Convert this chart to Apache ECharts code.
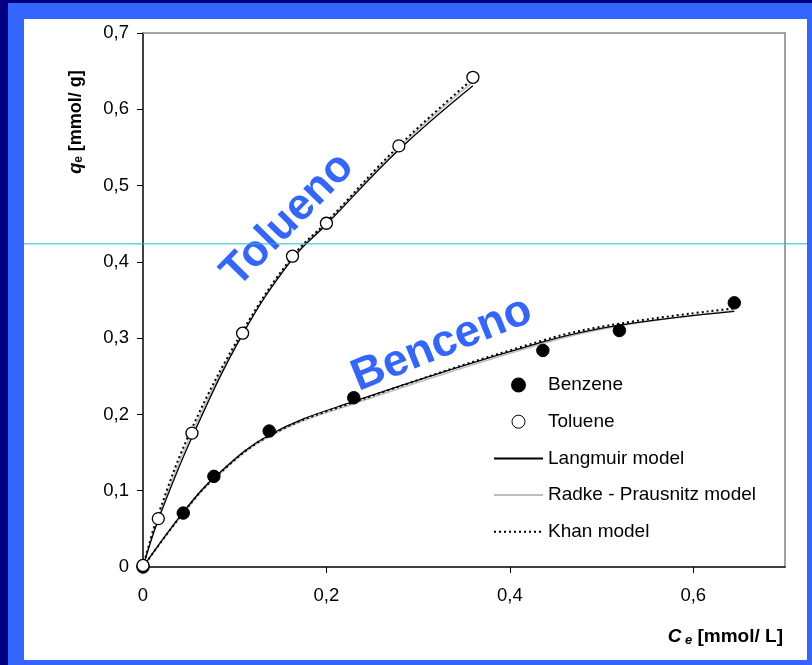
<!DOCTYPE html>
<html><head><meta charset="utf-8">
<script src="https://cdn.jsdelivr.net/npm/echarts@6/dist/echarts.min.js"></script>
<style>
html,body{margin:0;padding:0;width:812px;height:665px;overflow:hidden;background:#3366FF;}
#navyL{position:absolute;left:0;top:0;width:8px;height:665px;background:#000080;}
#navyT{position:absolute;left:0;top:0;width:812px;height:3px;background:#000080;}
#panel{position:absolute;left:24px;top:19px;width:783px;height:641px;background:#fff;}
#chart{position:absolute;left:0;top:0;width:812px;height:665px;}
</style></head><body>
<div id="navyL"></div><div id="navyT"></div><div id="panel"></div><div id="chart"></div>
<script>
// ---- data ----
const benzeneX   = [0, 0.0439, 0.0773, 0.1376, 0.2298, 0.436, 0.5194, 0.6447];
const benzeneQ   = [0, 0.0707, 0.1188, 0.1782, 0.2219, 0.2839, 0.310, 0.3463];
const tolueneX   = [0, 0.0167, 0.0534, 0.1086, 0.163, 0.200, 0.279, 0.3597];
const tolueneQ   = [0.002, 0.0634, 0.1755, 0.3065, 0.4074, 0.4506, 0.552, 0.6419];

const benzeneLangmuir = [0, 0.072, 0.117, 0.173, 0.217, 0.295, 0.317, 0.335];
const benzeneRadke    = [0, 0.070, 0.115, 0.171, 0.214, 0.293, 0.316, 0.336];
const benzeneKhan     = [0, 0.071, 0.116, 0.172, 0.216, 0.297, 0.319, 0.339];

const tolueneLangmuir = [0, 0.062, 0.170, 0.305, 0.404, 0.449, 0.547, 0.631];
const tolueneRadke    = [0, 0.065, 0.176, 0.307, 0.406, 0.451, 0.550, 0.636];
const tolueneKhan     = [0, 0.069, 0.182, 0.309, 0.407, 0.452, 0.552, 0.640];

const xTicks = [0, 0.2, 0.4, 0.6];
const xTickLabels = ['0', '0,2', '0,4', '0,6'];
const yTicks = [0, 0.1, 0.2, 0.3, 0.4, 0.5, 0.6, 0.7];
const yTickLabels = ['0', '0,1', '0,2', '0,3', '0,4', '0,5', '0,6', '0,7'];

const refLineY = 0.4236;
const labelTolueno = 'Tolueno';
const labelBenceno = 'Benceno';
const toluenoPos = [0.158, 0.455];
const bencenoPos = [0.326, 0.292];

// ---- build ----
const FONT = "'Liberation Sans', Arial, sans-serif";
const pairs = (xs, ys) => xs.map((x, i) => [x, ys[i]]);

function lineSeries(name, xs, ys, style) {
  return {
    type: 'line', name: name, data: pairs(xs, ys),
    smooth: 0.4, symbol: 'none', showSymbol: false, z: 3,
    lineStyle: style, itemStyle: { color: style.color }
  };
}
const radkeStyle = { color: '#BDBDBD', width: 1.5, type: 'solid' };
const langStyle  = { color: '#000000', width: 1.3, type: 'solid' };
const khanStyle  = { color: '#000000', width: 2, type: [2, 3] };

const option = {
  animation: false,
  textStyle: { fontFamily: FONT },
  grid: { left: 143, top: 33, right: 27, bottom: 98 },
  xAxis: [{
    type: 'value', min: 0, max: 0.7,
    axisLine: { show: true, lineStyle: { color: '#000', width: 1.5 } },
    axisTick: { show: true, length: 6, lineStyle: { color: '#000', width: 1 }, customValues: xTicks },
    axisLabel: { show: true, margin: 19, fontSize: 18.5, color: '#000', fontFamily: FONT,
      customValues: xTicks,
      formatter: v => { const i = xTicks.findIndex(t => Math.abs(t - v) < 1e-9); return i >= 0 ? xTickLabels[i] : ''; } },
    splitLine: { show: false }
  }, {
    type: 'value', min: 0, max: 0.7, position: 'top',
    axisLine: { show: true, onZero: false, lineStyle: { color: '#8a8a8a', width: 1.6 } },
    axisTick: { show: false }, axisLabel: { show: false }, splitLine: { show: false }
  }],
  yAxis: [{
    type: 'value', min: 0, max: 0.7, interval: 0.1,
    axisLine: { show: true, lineStyle: { color: '#000', width: 1.5 } },
    axisTick: { show: true, length: 6, lineStyle: { color: '#000', width: 1 } },
    axisLabel: { show: true, margin: 14, fontSize: 18.5, color: '#000', fontFamily: FONT,
      formatter: v => { const i = yTicks.findIndex(t => Math.abs(t - v) < 1e-6); return i >= 0 ? yTickLabels[i] : ''; } },
    splitLine: { show: false }
  }, {
    type: 'value', min: 0, max: 0.7, position: 'right',
    axisLine: { show: true, onZero: false, lineStyle: { color: '#8a8a8a', width: 1.6 } },
    axisTick: { show: false }, axisLabel: { show: false }, splitLine: { show: false }
  }],
  legend: {
    orient: 'vertical', left: 493, top: 375, padding: 0,
    itemWidth: 49, itemHeight: 13, itemGap: 16.7,
    selectedMode: false, symbolKeepAspect: true,
    textStyle: { fontSize: 19, color: '#000', fontFamily: FONT, lineHeight: 20 },
    data: [
      { name: 'Benzene', icon: 'circle', itemStyle: { color: '#000' } },
      { name: 'Toluene', icon: 'circle', itemStyle: { color: '#fff', borderColor: '#000', borderWidth: 1 } },
      { name: 'Langmuir model', itemStyle: { opacity: 0 } },
      { name: 'Radke - Prausnitz model', itemStyle: { opacity: 0 } },
      { name: 'Khan model', itemStyle: { opacity: 0 } }
    ]
  },
  series: [
    lineSeries('Radke - Prausnitz model', benzeneX, benzeneRadke, radkeStyle),
    lineSeries('Radke - Prausnitz model', tolueneX, tolueneRadke, radkeStyle),
    lineSeries('Langmuir model', benzeneX, benzeneLangmuir, langStyle),
    lineSeries('Langmuir model', tolueneX, tolueneLangmuir, langStyle),
    lineSeries('Khan model', benzeneX, benzeneKhan, khanStyle),
    lineSeries('Khan model', tolueneX, tolueneKhan, khanStyle),
    { type: 'scatter', name: 'Benzene', data: pairs(benzeneX, benzeneQ), symbol: 'circle', symbolSize: 12.5, z: 5,
      itemStyle: { color: '#000', borderColor: '#000', borderWidth: 1, opacity: 1 } },
    { type: 'scatter', name: 'Toluene', data: pairs(tolueneX, tolueneQ), symbol: 'circle', symbolSize: 12, z: 6,
      itemStyle: { color: '#fff', borderColor: '#000', borderWidth: 1.3, opacity: 1 } }
  ]
};

const chart = echarts.init(document.getElementById('chart'), null, { renderer: 'canvas', width: 812, height: 665 });
chart.setOption(option);

const yRefPx = chart.convertToPixel({ yAxisIndex: 0 }, refLineY);
const tPos = chart.convertToPixel({ gridIndex: 0 }, toluenoPos);
const bPos = chart.convertToPixel({ gridIndex: 0 }, bencenoPos);

chart.setOption({
  graphic: [
    { type: 'line', z: 10, silent: true,
      shape: { x1: 24, y1: yRefPx, x2: 807, y2: yRefPx },
      style: { stroke: '#19B9CC', lineWidth: 1 } },
    { type: 'text', z: 4, silent: true, x: tPos[0], y: tPos[1], rotation: 45.5 * Math.PI / 180,
      style: { text: labelTolueno, fill: '#3366FF', font: "bold 44px " + FONT, align: 'center', verticalAlign: 'middle' } },
    { type: 'text', z: 4, silent: true, x: bPos[0], y: bPos[1], rotation: 22 * Math.PI / 180,
      style: { text: labelBenceno, fill: '#3366FF', font: "bold 45px " + FONT, align: 'center', verticalAlign: 'middle' } },
    { type: 'text', z: 4, silent: true, x: 76, y: 122, rotation: Math.PI / 2,
      style: {
        text: '{q|q}{e|e}{t| [mmol/ g]}', align: 'center', verticalAlign: 'middle', fill: '#000',
        rich: {
          q: { fontSize: 18, fontWeight: 'bold', fontStyle: 'italic', fontFamily: FONT, fill: '#000' },
          e: { fontSize: 12, fontWeight: 'bold', fontFamily: FONT, verticalAlign: 'bottom', fill: '#000' },
          t: { fontSize: 18, fontWeight: 'bold', fontFamily: FONT, fill: '#000' }
        }
      } },
    { type: 'text', z: 4, silent: true, x: 783, y: 637,
      style: {
        text: '{c|C}{e| e}{t| [mmol/ L]}', align: 'right', verticalAlign: 'middle', fill: '#000',
        rich: {
          c: { fontSize: 19, fontWeight: 'bold', fontStyle: 'italic', fontFamily: FONT, fill: '#000' },
          e: { fontSize: 13, fontWeight: 'bold', fontStyle: 'italic', fontFamily: FONT, verticalAlign: 'bottom', fill: '#000' },
          t: { fontSize: 19, fontWeight: 'bold', fontFamily: FONT, fill: '#000' }
        }
      } }
  ]
});
</script>
</body></html>
